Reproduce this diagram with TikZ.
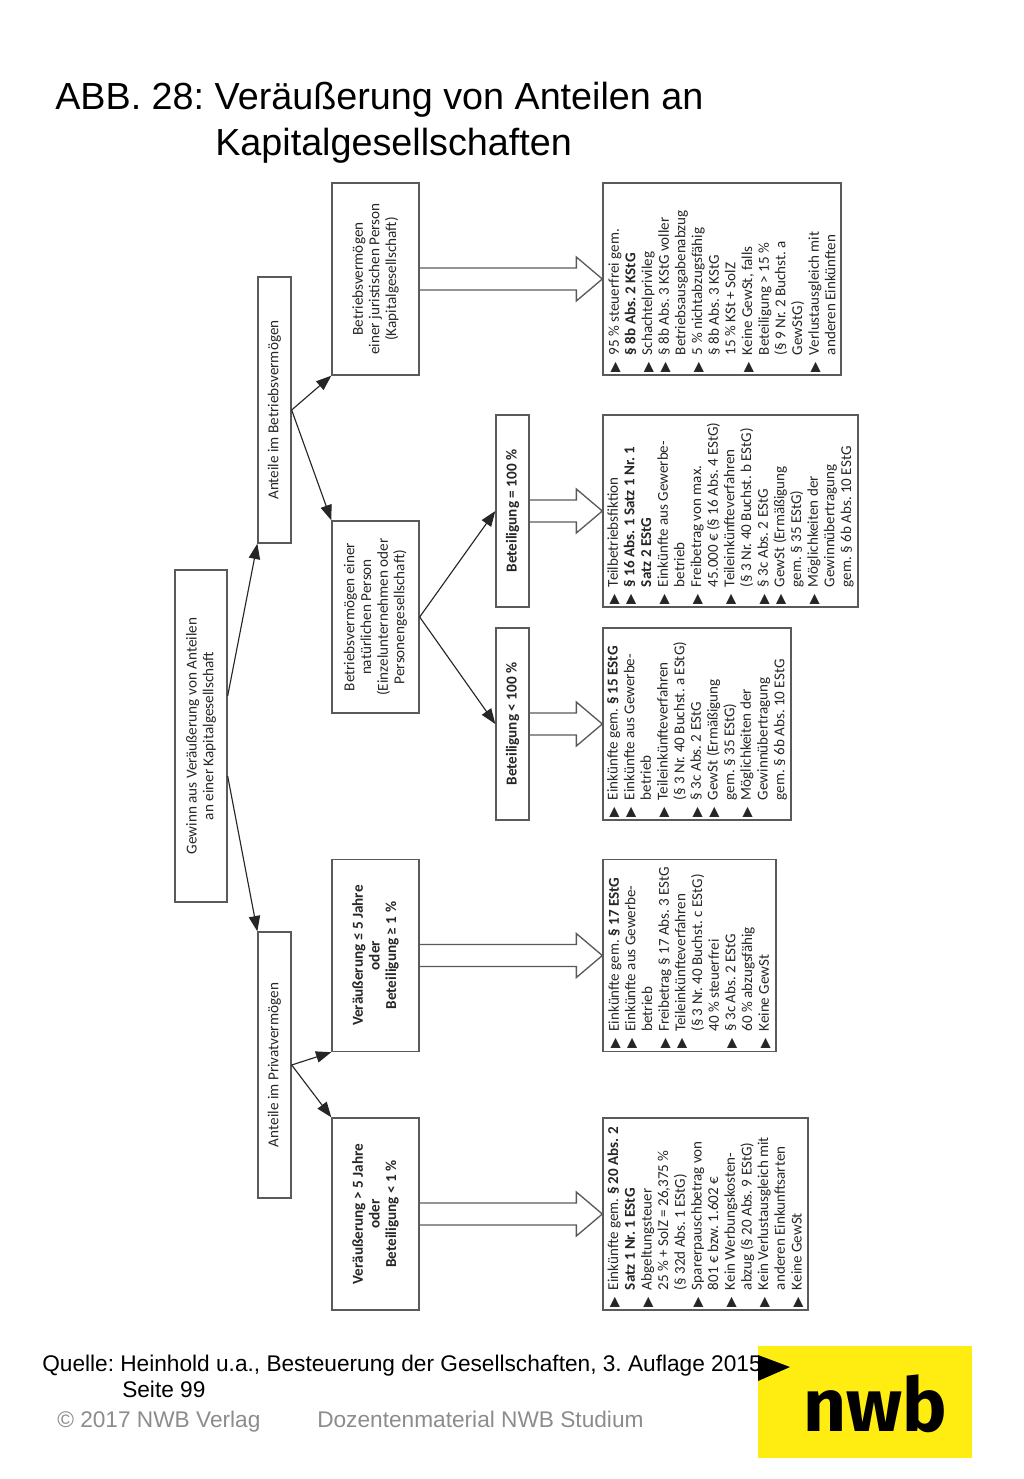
\documentclass[tikz,border=0pt]{standalone}
\usepackage{fontspec}
\setmainfont{Liberation Sans}
\newfontfamily\boxfont{Carlito}
\newfontfamily\bulletfont{DejaVu Sans}
\newfontfamily\logofont{Fira Sans}
\usetikzlibrary{arrows.meta, positioning, calc}
\definecolor{boxgray}{HTML}{5A5A5A}
\definecolor{footgray}{HTML}{8C8C8C}
\definecolor{nwbyellow}{HTML}{FFED12}
\frenchspacing

% bullet and hanging indent for the lists
\newcommand{\bul}{\makebox[13pt][l]{\raisebox{-0.2pt}{\bulletfont\fontsize{10}{10}\selectfont ▶}}}
\newcommand{\ind}{\hspace*{13pt}}

\tikzset{
    box/.style={draw=boxgray, line width=1pt, rotate=90, inner sep=2pt, align=center, text=black!85, font=\boxfont\fontsize{11.4}{12.5}\selectfont},
    midbox/.style={box, minimum width=144pt, minimum height=65.25pt},
    barbox/.style={box, minimum width=199.5pt, minimum height=24.75pt},
    betbox/.style={box, minimum width=144pt, minimum height=24.75pt, font=\boxfont\bfseries\fontsize{11.4}{12.5}\selectfont},
    resbox/.style={draw=boxgray, line width=1pt, rotate=90, text width=140pt, inner xsep=2pt, inner ysep=0pt, align=flush left, minimum height=#1, text=black!85, font=\boxfont\fontsize{11.3}{12.5}\selectfont},
    pfeil/.style={draw=black!85, line width=0.85pt, -{Triangle[length=11.5pt,width=8.5pt]}},
    blockline/.style={draw=boxgray, line width=1pt, line join=miter},
    titel/.style={anchor=base west, inner sep=0pt, font=\fontsize{28.3}{30}\selectfont},
    quelle/.style={anchor=base west, inner sep=0pt, font=\fontsize{17}{18}\selectfont},
    fuss/.style={anchor=base west, inner sep=0pt, text=footgray, font=\fontsize{17}{18}\selectfont}
}

% hollow arrow from the right side of one box to the left side of the next
\newcommand{\blockarrow}[2]{%
    \draw[blockline] ([yshift=8.25pt]#1.south) -- ([xshift=-19.5pt,yshift=8.25pt]#2.north)
        -- ([xshift=-19.5pt,yshift=16.5pt]#2.north) -- (#2.north)
        -- ([xshift=-19.5pt,yshift=-16.5pt]#2.north) -- ([xshift=-19.5pt,yshift=-8.25pt]#2.north)
        -- ([yshift=-8.25pt]#1.south);
}

\begin{document}
\begin{tikzpicture}[x=0.75pt, y=-0.75pt]
    \useasboundingbox (0,0) rectangle (1024,1479);

    % heading
    \node[titel] (title) at (55,109) {ABB. 28: Veräußerung von Anteilen an};
    \node[titel] (titletwo) at (215,155) {Kapitalgesellschaften};

    % left column
    \node[box, minimum width=249pt, minimum height=39pt] (gewinn) at (201,736) {Gewinn aus Veräußerung von Anteilen\\an einer Kapitalgesellschaft};
    \node[barbox] (betrieb) at (274.5,410) {Anteile im Betriebsvermögen};
    \node[barbox] (privat) at (274.5,1065) {Anteile im Privatvermögen};

    % middle column
    \node[midbox] (jur) at (375.5,279) {Betriebsvermögen\\einer juristischen Person\\(Kapitalgesellschaft)};
    \node[midbox] (nat) at (375.5,617) {Betriebsvermögen einer\\natürlichen Person\\(Einzelunternehmen oder\\Personengesellschaft)};
    \node[midbox, font=\boxfont\bfseries\fontsize{11.4}{12.5}\selectfont] (kurz) at (375.5,955.5) {Veräußerung ≤ 5 Jahre\\oder\\Beteiligung ≥ 1 \%};
    \node[midbox, font=\boxfont\bfseries\fontsize{11.4}{12.5}\selectfont] (lang) at (375.5,1214) {Veräußerung > 5 Jahre\\oder\\Beteiligung < 1 \%};
    \node[betbox] (voll) at (512.5,511) {Beteiligung = 100 \%};
    \node[betbox] (teil) at (512.5,724) {Beteiligung < 100 \%};

    % right column
    \node[resbox=178.5pt] (resjur) at (722,279) {%
        \bul 95 \% steuerfrei gem.\\
        \ind\textbf{§ 8b Abs. 2 KStG}\\
        \bul Schachtelprivileg\\
        \bul § 8b Abs. 3 KStG voller\\
        \ind Betriebsausgabenabzug\\
        \bul 5 \% nichtabzugsfähig\\
        \ind § 8b Abs. 3 KStG\\
        \ind 15 \% KSt + SolZ\\
        \bul Keine GewSt, falls\\
        \ind Beteiligung > 15 \%\\
        \ind (§ 9 Nr. 2 Buchst. a\\
        \ind GewStG)\\
        \bul Verlustausgleich mit\\
        \ind anderen Einkünften};
    \node[resbox=191.25pt] (resvoll) at (730.5,511) {%
        \bul Teilbetriebsfiktion\\
        \bul\textbf{§ 16 Abs. 1 Satz 1 Nr. 1}\\
        \ind\textbf{Satz 2 EStG}\\
        \bul Einkünfte aus Gewerbe-\\
        \ind betrieb\\
        \bul Freibetrag von max.\\
        \ind 45.000 € (§ 16 Abs. 4 EStG)\\
        \bul Teileinkünfteverfahren\\
        \ind (§ 3 Nr. 40 Buchst. b EStG)\\
        \bul § 3c Abs. 2 EStG\\
        \bul GewSt (Ermäßigung\\
        \ind gem. § 35 EStG)\\
        \bul Möglichkeiten der\\
        \ind Gewinnübertragung\\
        \ind gem. § 6b Abs. 10 EStG};
    \node[resbox=141pt] (resteil) at (697,724) {%
        \bul Einkünfte gem. \textbf{§ 15 EStG}\\
        \bul Einkünfte aus Gewerbe-\\
        \ind betrieb\\
        \bul Teileinkünfteverfahren\\
        \ind (§ 3 Nr. 40 Buchst. a EStG)\\
        \bul § 3c Abs. 2 EStG\\
        \bul GewSt (Ermäßigung\\
        \ind gem. § 35 EStG)\\
        \bul Möglichkeiten der\\
        \ind Gewinnübertragung\\
        \ind gem. § 6b Abs. 10 EStG};
    \node[resbox=129.75pt] (reskurz) at (689.5,955.5) {%
        \bul Einkünfte gem. \textbf{§ 17 EStG}\\
        \bul Einkünfte aus Gewerbe-\\
        \ind betrieb\\
        \bul Freibetrag § 17 Abs. 3 EStG\\
        \bul Teileinkünfteverfahren\\
        \ind (§ 3 Nr. 40 Buchst. c EStG)\\
        \ind 40 \% steuerfrei\\
        \bul § 3c Abs. 2 EStG\\
        \ind 60 \% abzugsfähig\\
        \bul Keine GewSt};
    \node[resbox=153.75pt] (reslang) at (705.5,1214) {%
        \bul Einkünfte gem. \textbf{§ 20 Abs. 2}\\
        \ind\textbf{Satz 1 Nr. 1 EStG}\\
        \bul Abgeltungsteuer\\
        \ind 25 \% + SolZ = 26,375 \%\\
        \ind (§ 32d Abs. 1 EStG)\\
        \bul Sparerpauschbetrag von\\
        \ind 801 € bzw. 1.602 €\\
        \bul Kein Werbungskosten-\\
        \ind abzug (§ 20 Abs. 9 EStG)\\
        \bul Kein Verlustausgleich mit\\
        \ind anderen Einkunftsarten\\
        \bul Keine GewSt};

    % arrows
    \draw[pfeil] ([yshift=30pt]gewinn.south) -- (betrieb.north west);
    \draw[pfeil] ([yshift=-30pt]gewinn.south) -- (privat.north east);
    \draw[pfeil] (betrieb.south) -- (jur.north west);
    \draw[pfeil] (betrieb.south) -- (nat.north east);
    \draw[pfeil] (privat.south) -- (kurz.north west);
    \draw[pfeil] (privat.south) -- (lang.north east);
    \draw[pfeil] (nat.south) -- (voll.north);
    \draw[pfeil] (nat.south) -- (teil.north);

    \blockarrow{jur}{resjur}
    \blockarrow{voll}{resvoll}
    \blockarrow{teil}{resteil}
    \blockarrow{kurz}{reskurz}
    \blockarrow{lang}{reslang}

    % footer
    \node[quelle] (quelle) at (42,1371) {Quelle: Heinhold u.a., Besteuerung der Gesellschaften, 3. Auflage 2015};
    \node[quelle] (seite) at (122,1397) {Seite 99};
    \node[fuss] (copy) at (57,1427) {© 2017 NWB Verlag};
    \node[fuss] (doz) at (317,1427) {Dozentenmaterial NWB Studium};

    % logo
    \node[fill=nwbyellow, minimum width=160.5pt, minimum height=84pt, inner sep=0pt] (logo) at (865,1402) {};
    \node[anchor=base, inner sep=0pt, font=\logofont\bfseries\fontsize{56}{60}\selectfont] (logotext) at (875,1431) {nwb};
    \fill (758,1355) -- (790,1367) -- (758,1381) -- cycle;
\end{tikzpicture}
\end{document}
